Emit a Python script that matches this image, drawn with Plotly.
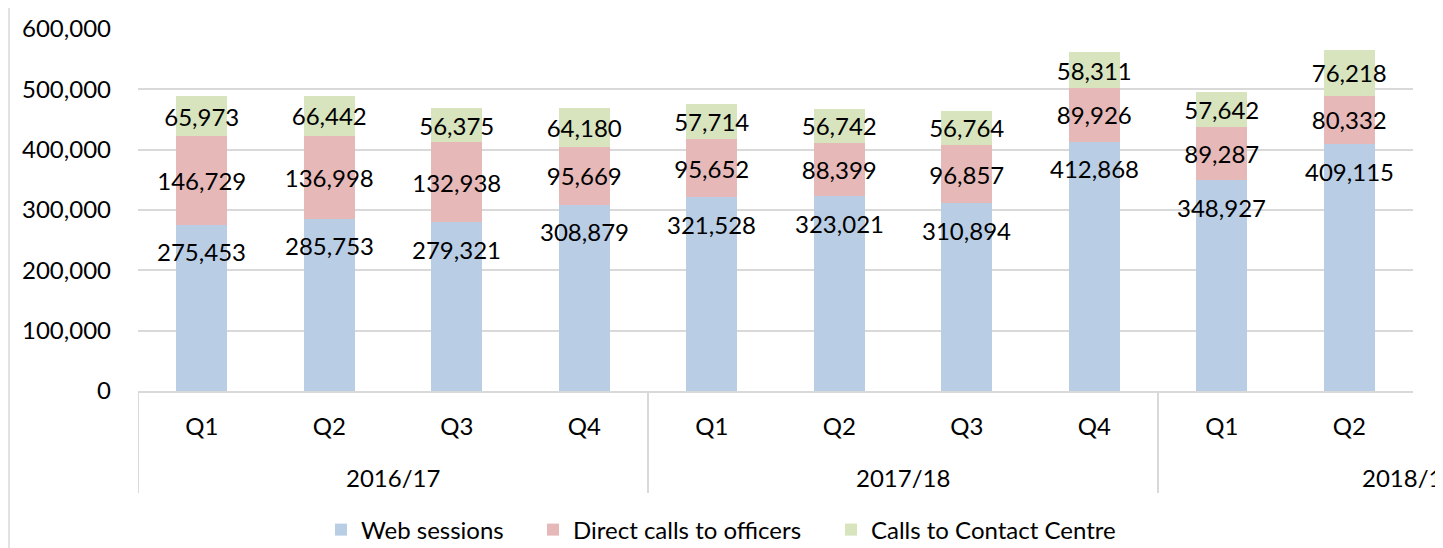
import plotly.graph_objects as go

quarters = ["Q1", "Q2", "Q3", "Q4", "Q1", "Q2", "Q3", "Q4", "Q1", "Q2"]
years = ["2016/17", "2017/18", "2018/19"]
web_sessions = [275453, 285753, 279321, 308879, 321528, 323021, 310894, 412868, 348927, 409115]
direct_calls = [146729, 136998, 132938, 95669, 95652, 88399, 96857, 89926, 89287, 80332]
contact_centre = [65973, 66442, 56375, 64180, 57714, 56742, 56764, 58311, 57642, 76218]

FONT = "Lato"
SIZE = 24
GRID = "#D9D9D9"
x = list(range(len(quarters)))

# the page body adds an 8px offset, so the figure is 8px smaller than the window
PLOT_LEFT, PLOT_WIDTH = 138, 1275


def px_to_paper(px):
    return (px - PLOT_LEFT) / PLOT_WIDTH


fig = go.Figure()
series = [
    ("Web sessions", web_sessions, "#B9CDE5", "legend2", 363),
    ("Direct calls to officers", direct_calls, "#E6B9B8", "legend3", 575),
    ("Calls to Contact Centre", contact_centre, "#D7E4BD", "legend4", 873),
]
for name, values, color, legend, _ in series:
    is_web = name == "Web sessions"
    fig.add_trace(
        go.Bar(
            x=x,
            y=values,
            name=name,
            legend=legend,
            marker=dict(color=color, line=dict(width=0)),
            text=None if is_web else [f"{v:,}" for v in values],
            textposition="inside",
            insidetextanchor="middle",
            textangle=0,
            constraintext="none",
            textfont=dict(family=FONT, size=SIZE, color="#000000"),
            hoverinfo="skip",
        )
    )

annotations = []
# web session labels sit just inside the top of the blue segment
for xi, v in zip(x, web_sessions):
    annotations.append(
        dict(text=f"{v:,}", x=xi, y=v, xref="x", yref="y", yanchor="middle", yshift=-27,
             showarrow=False, font=dict(family=FONT, size=SIZE, color="#000000"))
    )

# year group dividers and labels
shapes = []
for pos in [-0.5, 3.5, 7.5]:
    shapes.append(
        dict(type="line", xref="x", yref="paper", x0=pos, x1=pos, y0=0, y1=-0.282,
             line=dict(color=GRID, width=2))
    )
# chart border (left and right edges)
for px in [9, 1440]:
    shapes.append(
        dict(type="line", xref="paper", yref="paper", x0=px_to_paper(px), x1=px_to_paper(px),
             y0=-1.0, y1=1.2, line=dict(color=GRID, width=1.5), layer="below")
    )
for label, pos in zip(years, [1.5, 5.5, 9.47]):
    annotations.append(
        dict(text=label, x=pos, xref="x", y=-0.24, yref="paper", yanchor="middle",
             showarrow=False, font=dict(family=FONT, size=SIZE, color="#000000"))
    )

legends = {}
for _, _, _, legend, text_x in series:
    legends[legend] = dict(
        orientation="h",
        x=px_to_paper(text_x - 42),
        xanchor="left",
        y=-0.384,
        yanchor="middle",
        font=dict(family=FONT, size=SIZE, color="#000000"),
        bgcolor="rgba(0,0,0,0)",
    )

fig.update_layout(
    width=1435,
    height=540,
    barmode="stack",
    bargap=0.6,
    plot_bgcolor="white",
    paper_bgcolor="white",
    margin=dict(l=130, r=30, t=21, b=157, autoexpand=False),
    font=dict(family=FONT, size=SIZE, color="#000000"),
    shapes=shapes,
    annotations=annotations,
    **legends,
)
fig.update_xaxes(
    tickmode="array",
    tickvals=x,
    ticktext=quarters,
    range=[-0.5, 9.5],
    showline=True,
    linecolor=GRID,
    linewidth=2,
    showgrid=False,
    ticks="",
    ticklabelstandoff=13,
)
fig.update_yaxes(
    range=[0, 600000],
    dtick=100000,
    tickformat=",",
    gridcolor=GRID,
    gridwidth=1.5,
    zeroline=False,
    showline=False,
    ticks="",
    ticklabelstandoff=26,
)

fig.write_html("out.html")
